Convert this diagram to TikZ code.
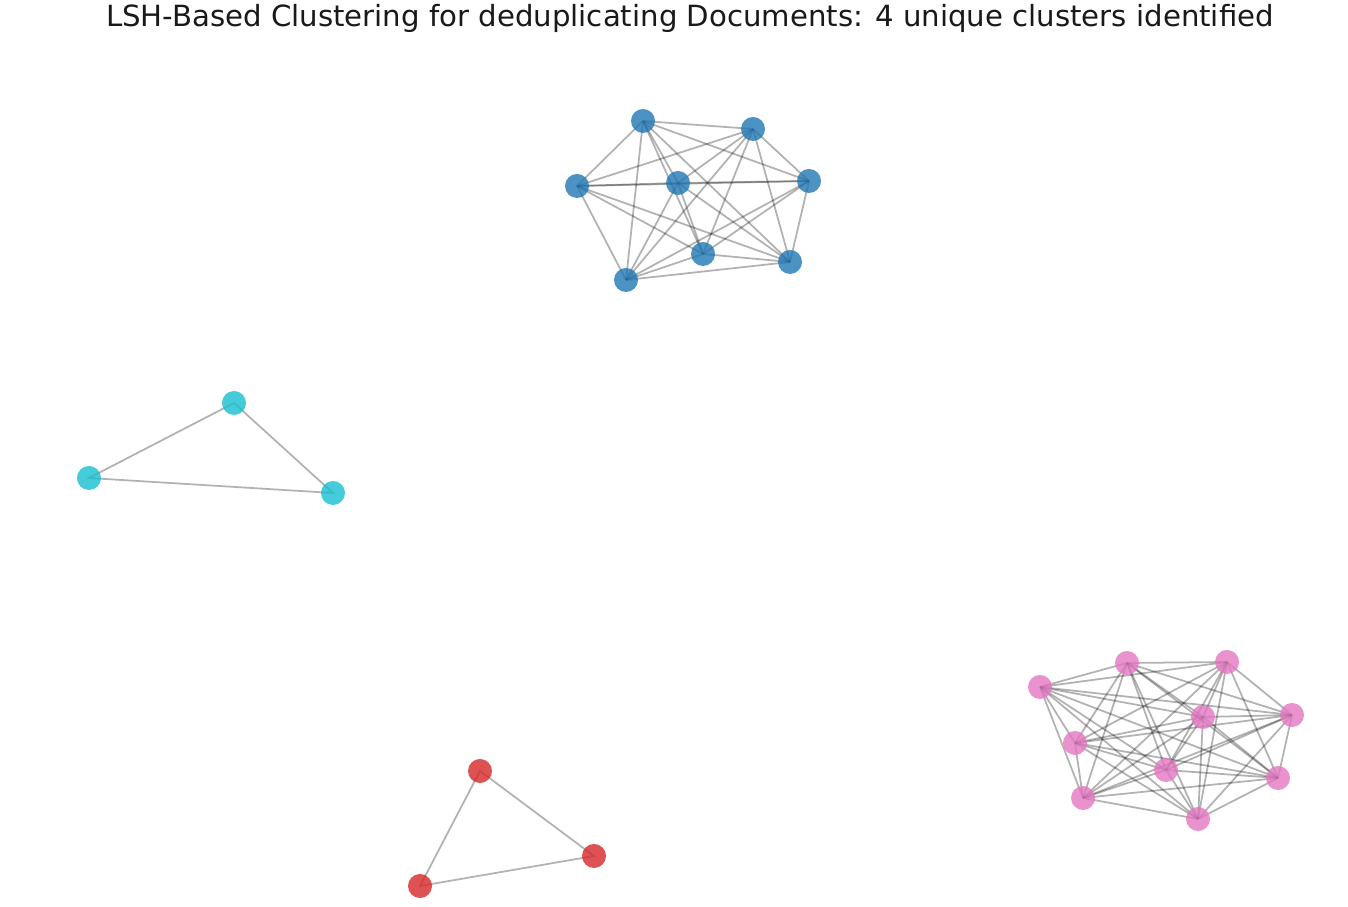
\documentclass[tikz,border=0pt]{standalone}
\usepackage{fontspec}
\setmainfont{DejaVu Sans}
\usepackage{xcolor}
\usepackage{tikz}
\usetikzlibrary{backgrounds}

\definecolor{tabblue}{HTML}{1F77B4}
\definecolor{tabcyan}{HTML}{17BECF}
\definecolor{tabred}{HTML}{D62728}
\definecolor{tabpink}{HTML}{E377C2}

\tikzset{
    doc/.style={circle, inner sep=0pt, minimum size=0.24cm, fill opacity=0.8},
    edge/.style={black, draw opacity=0.3, line width=0.5pt}
}

\begin{document}
\begin{tikzpicture}[x=0.01cm, y=-0.01cm]

    \useasboundingbox (0,0) rectangle (1348,907);

    % Titel
    \node[text=black!90] (title) at (690,18) {\fontsize{8.3}{9}\selectfont LSH-Based Clustering for deduplicating Documents: 4 unique clusters identified};

    % Cluster 1 (blauw)
    \foreach \n/\x/\y in {1/643/121, 2/753/129, 3/577/186, 4/678/183,
                          5/809/181, 6/703/254, 7/790/262, 8/626/280} {
        \node[doc, fill=tabblue] (b\n) at (\x,\y) {};
    }

    % Cluster 2 (cyaan)
    \foreach \n/\x/\y in {1/234/403, 2/89/478, 3/333/493} {
        \node[doc, fill=tabcyan] (c\n) at (\x,\y) {};
    }

    % Cluster 3 (rood)
    \foreach \n/\x/\y in {1/480/771, 2/594/856, 3/420/886} {
        \node[doc, fill=tabred] (r\n) at (\x,\y) {};
    }

    % Cluster 4 (roze)
    \foreach \n/\x/\y in {1/1040/687, 2/1127/663, 3/1227/662, 4/1203/717,
                          5/1292/715, 6/1075/743, 7/1166/770, 8/1278/778,
                          9/1083/798, 10/1198/819} {
        \node[doc, fill=tabpink] (p\n) at (\x,\y) {};
    }

    % Verbindingen: elk cluster is volledig verbonden
    \begin{scope}[on background layer]
        \foreach \i in {1,...,7} {
            \pgfmathtruncatemacro\k{\i+1}
            \foreach \j in {\k,...,8}
                \draw[edge] (b\i.center) -- (b\j.center);
        }
        \foreach \i in {1,...,9} {
            \pgfmathtruncatemacro\k{\i+1}
            \foreach \j in {\k,...,10}
                \draw[edge] (p\i.center) -- (p\j.center);
        }
        \draw[edge] (c1.center) -- (c2.center) -- (c3.center) -- cycle;
        \draw[edge] (r1.center) -- (r2.center) -- (r3.center) -- cycle;
    \end{scope}

\end{tikzpicture}
\end{document}
